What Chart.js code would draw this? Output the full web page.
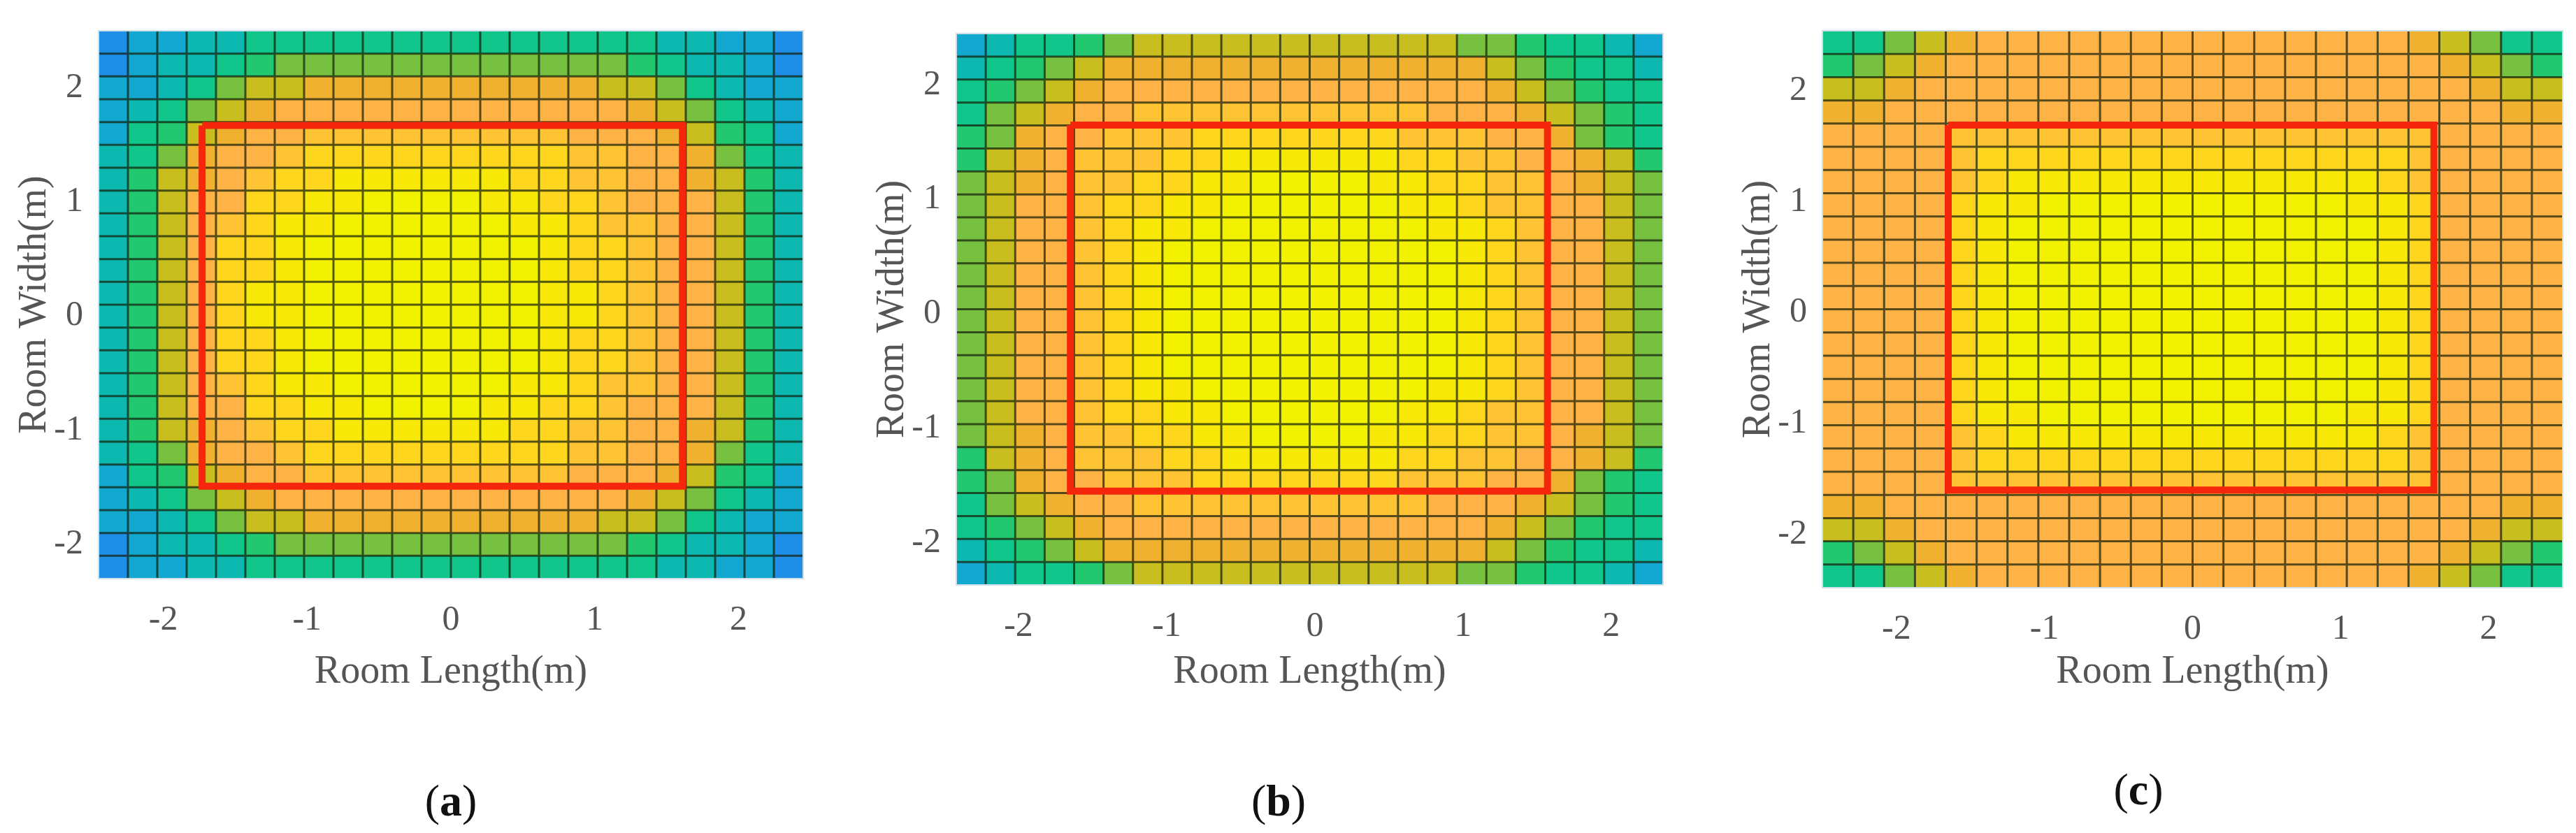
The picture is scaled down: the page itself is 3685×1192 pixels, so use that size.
<!DOCTYPE html>
<html>
<head>
<meta charset="utf-8">
<script src="https://cdn.jsdelivr.net/npm/chart.js@4/dist/chart.umd.min.js"></script>
<style>
	body { margin: 0; background: #fff; width: 3685px; height: 1192px; position: relative; overflow: hidden; }
	canvas { position: absolute; }
	.tag { position: absolute; font-family: "Liberation Serif", serif; font-size: 64px; color: #111; transform: translate(-50%, -50%); }
	.tag b { font-weight: bold; }
</style>
</head>
<body>
<canvas id="ca"></canvas>
<canvas id="cb"></canvas>
<canvas id="cc"></canvas>
<div class="tag" style="left:645px;top:1146px">(<b>a</b>)</div>
<div class="tag" style="left:1829px;top:1146px">(<b>b</b>)</div>
<div class="tag" style="left:3059px;top:1130px">(<b>c</b>)</div>
<script>
// colour levels, 0 = blue ... C = yellow
var levelColors = ['#1e8ee6', '#12a8d0', '#0db8b0', '#10c68a', '#22c870', '#78c040', '#c8be20',
	'#f0b030', '#ffb347', '#ffc433', '#ffd61e', '#f8e808', '#f2f200'];

var tickValues = [-2, -1, 0, 1, 2];

// panel (a): 24 rows (top to bottom) x 24 columns
var gridA = [
	'011223333333333333322110',
	'012234555555555555432210',
	'112356677777777776653211',
	'123567888888888888765321',
	'134678899999999988876431',
	'2357889AAAAAAAAA99887532',
	'246789AABBBBBBAA99887642',
	'24688AABBCCCCBBAA9888642',
	'24689ABBCCCCCCBBA9988642',
	'2468AABCCCCCCCCBAA988642',
	'2468AABCCCCCCCCBAA988642',
	'2468ABBCCCCCCCCBBA988642',
	'2468ABBCCCCCCCCBBA988642',
	'2468AABCCCCCCCCBAA988642',
	'2468AABCCCCCCCCBAA988642',
	'24689ABBCCCCCCBBA9988642',
	'24688AABBCCCCBBAA9888642',
	'246789AABBBBBBAA99887642',
	'2357889AAAAAAAAA99887532',
	'134678899999999988876431',
	'123567888888888888765321',
	'112356677777777776653211',
	'012234555555555555432210',
	'011223333333333333322110'
];

// panel (b)
var gridB = [
	'123345666666666665543321',
	'234567777777777777654332',
	'345678888888888888765433',
	'356788999999999988876543',
	'45788999AAAAAAA999887543',
	'4678999AABBBBBBAA9988764',
	'567899AABBCCCCBBAA998765',
	'56889AABBCCCCCCBBA998865',
	'56889ABBCCCCCCCCBBA98865',
	'56889ABCCCCCCCCCCBA98865',
	'56889ABCCCCCCCCCCBA98865',
	'56889ABCCCCCCCCCCBA98865',
	'56889ABCCCCCCCCCCBA98865',
	'56889ABCCCCCCCCCCBA98865',
	'56889ABCCCCCCCCCCBA98865',
	'56889ABBCCCCCCCCBBA98865',
	'56889AABBCCCCCCBBA998865',
	'567899AABBCCCCBBAA998765',
	'4678999AABBBBBBAA9988764',
	'45788999AAAAAAA999887543',
	'356788999999999988876543',
	'345678888888888888765433',
	'234567777777777777654332',
	'123345666666666665543321'
];

// panel (c)
var gridC = [
	'335678888888888888876533',
	'456788888888888888887654',
	'667888888888888888888766',
	'778888888888888888888877',
	'888899999999999999998888',
	'88889AAAAAAAAAAAAAA98888',
	'88889ABBBBBBBBBBBBA98888',
	'8888ABBCCCCCCCCCCBBA8888',
	'8888ABCCCCCCCCCCCCBA8888',
	'8888ABCCCCCCCCCCCCBA8888',
	'8888ABCCCCCCCCCCCCBA8888',
	'8888ABCCCCCCCCCCCCBA8888',
	'8888ABCCCCCCCCCCCCBA8888',
	'8888ABCCCCCCCCCCCCBA8888',
	'8888ABCCCCCCCCCCCCBA8888',
	'8888ABCCCCCCCCCCCCBA8888',
	'8888ABBCCCCCCCCCCBBA8888',
	'88889ABBBBBBBBBBBBA98888',
	'88889AAAAAAAAAAAAAA98888',
	'888899999999999999998888',
	'778888888888888888888877',
	'667888888888888888888766',
	'456788888888888888887654',
	'335678888888888888876533'
];

// axis ranges [min, max]
var xRangeA = [-2.45, 2.45], yRangeA = [-2.3, 2.5];
var xRangeB = [-2.42, 2.35], yRangeB = [-2.37, 2.45];
var xRangeC = [-2.5, 2.5], yRangeC = [-2.48, 2.54];

// red outline corners
var rectA = [{x: -1.73, y: 1.67}, {x: 1.61, y: 1.67}, {x: 1.61, y: -1.49}, {x: -1.73, y: -1.49}, {x: -1.73, y: 1.67}];
var rectB = [{x: -1.65, y: 1.65}, {x: 1.57, y: 1.65}, {x: 1.57, y: -1.55}, {x: -1.65, y: -1.55}, {x: -1.65, y: 1.65}];
var rectC = [{x: -1.65, y: 1.69}, {x: 1.63, y: 1.69}, {x: 1.63, y: -1.6}, {x: -1.65, y: -1.6}, {x: -1.65, y: 1.69}];

var heatPlugin = {
	id: 'heat',
	beforeDatasetsDraw: function (chart, args, opts) {
		var ctx = chart.ctx, xs = chart.scales.x, ys = chart.scales.y;
		var grid = opts.grid, rows = grid.length, cols = grid[0].length;
		var dx = (xs.max - xs.min) / cols, dy = (ys.max - ys.min) / rows;
		ctx.save();
		for (var r = 0; r < rows; r++) {
			for (var c = 0; c < cols; c++) {
				var x0 = xs.getPixelForValue(xs.min + c * dx), x1 = xs.getPixelForValue(xs.min + (c + 1) * dx);
				var y0 = ys.getPixelForValue(ys.max - r * dy), y1 = ys.getPixelForValue(ys.max - (r + 1) * dy);
				ctx.fillStyle = levelColors[parseInt(grid[r][c], 16)];
				ctx.fillRect(x0, y0, x1 - x0 + 0.5, y1 - y0 + 0.5);
			}
		}
		ctx.strokeStyle = 'rgba(20,30,10,0.72)';
		ctx.lineWidth = 3;
		ctx.beginPath();
		for (var c2 = 1; c2 < cols; c2++) {
			var px = xs.getPixelForValue(xs.min + c2 * dx);
			ctx.moveTo(px, chart.chartArea.top); ctx.lineTo(px, chart.chartArea.bottom);
		}
		for (var r2 = 1; r2 < rows; r2++) {
			var py = ys.getPixelForValue(ys.max - r2 * dy);
			ctx.moveTo(chart.chartArea.left, py); ctx.lineTo(chart.chartArea.right, py);
		}
		ctx.stroke();
		ctx.strokeStyle = '#cfe0e8';
		ctx.lineWidth = 2;
		ctx.strokeRect(chart.chartArea.left, chart.chartArea.top, chart.chartArea.right - chart.chartArea.left, chart.chartArea.bottom - chart.chartArea.top);
		ctx.restore();
	}
};

var font = {family: '"Liberation Serif", serif', size: 50};

function makePanel(id, grid, rect, xRange, yRange, area) {
	var leftW = 128, rightW = 40, height = 1000;
	var el = document.getElementById(id);
	el.style.left = (area.left - leftW) + 'px';
	el.style.top = '0px';
	el.style.width = (area.right - area.left + leftW + rightW) + 'px';
	el.style.height = height + 'px';
	return new Chart(el, {
		type: 'scatter',
		data: {
			datasets: [{
				data: rect,
				showLine: true,
				borderColor: '#f5260c',
				borderWidth: 10,
				pointRadius: 0,
				borderJoinStyle: 'miter'
			}]
		},
		options: {
			responsive: false,
			animation: false,
			layout: {padding: {top: area.top, right: rightW, left: 0, bottom: 0}},
			plugins: {legend: {display: false}, tooltip: {enabled: false}, heat: {grid: grid}},
			scales: {
				x: {
					min: xRange[0], max: xRange[1],
					afterBuildTicks: function (s) { s.ticks = tickValues.map(function (v) { return {value: v}; }); },
					afterFit: function (s) { s.height = height - area.bottom; },
					grid: {display: false}, border: {display: false},
					ticks: {font: font, color: '#555', padding: 22, maxRotation: 0},
					title: {display: true, text: 'Room Length(m)', font: {family: font.family, size: 56}, color: '#555', padding: {top: 0}}
				},
				y: {
					min: yRange[0], max: yRange[1],
					afterBuildTicks: function (s) { s.ticks = tickValues.map(function (v) { return {value: v}; }); },
					afterFit: function (s) { s.width = leftW; },
					grid: {display: false}, border: {display: false},
					ticks: {font: font, color: '#555', padding: 14},
					title: {display: true, text: 'Room Width(m)', font: {family: font.family, size: 56}, color: '#555', padding: {top: 4, bottom: 0}}
				}
			}
		},
		plugins: [heatPlugin]
	});
}

makePanel('ca', gridA, rectA, xRangeA, yRangeA, {left: 141, top: 43, right: 1149, bottom: 828});
makePanel('cb', gridB, rectB, xRangeB, yRangeB, {left: 1368, top: 48, right: 2379, bottom: 837});
makePanel('cc', gridC, rectC, xRangeC, yRangeC, {left: 2607, top: 34, right: 3666, bottom: 841});
</script>
</body>
</html>
